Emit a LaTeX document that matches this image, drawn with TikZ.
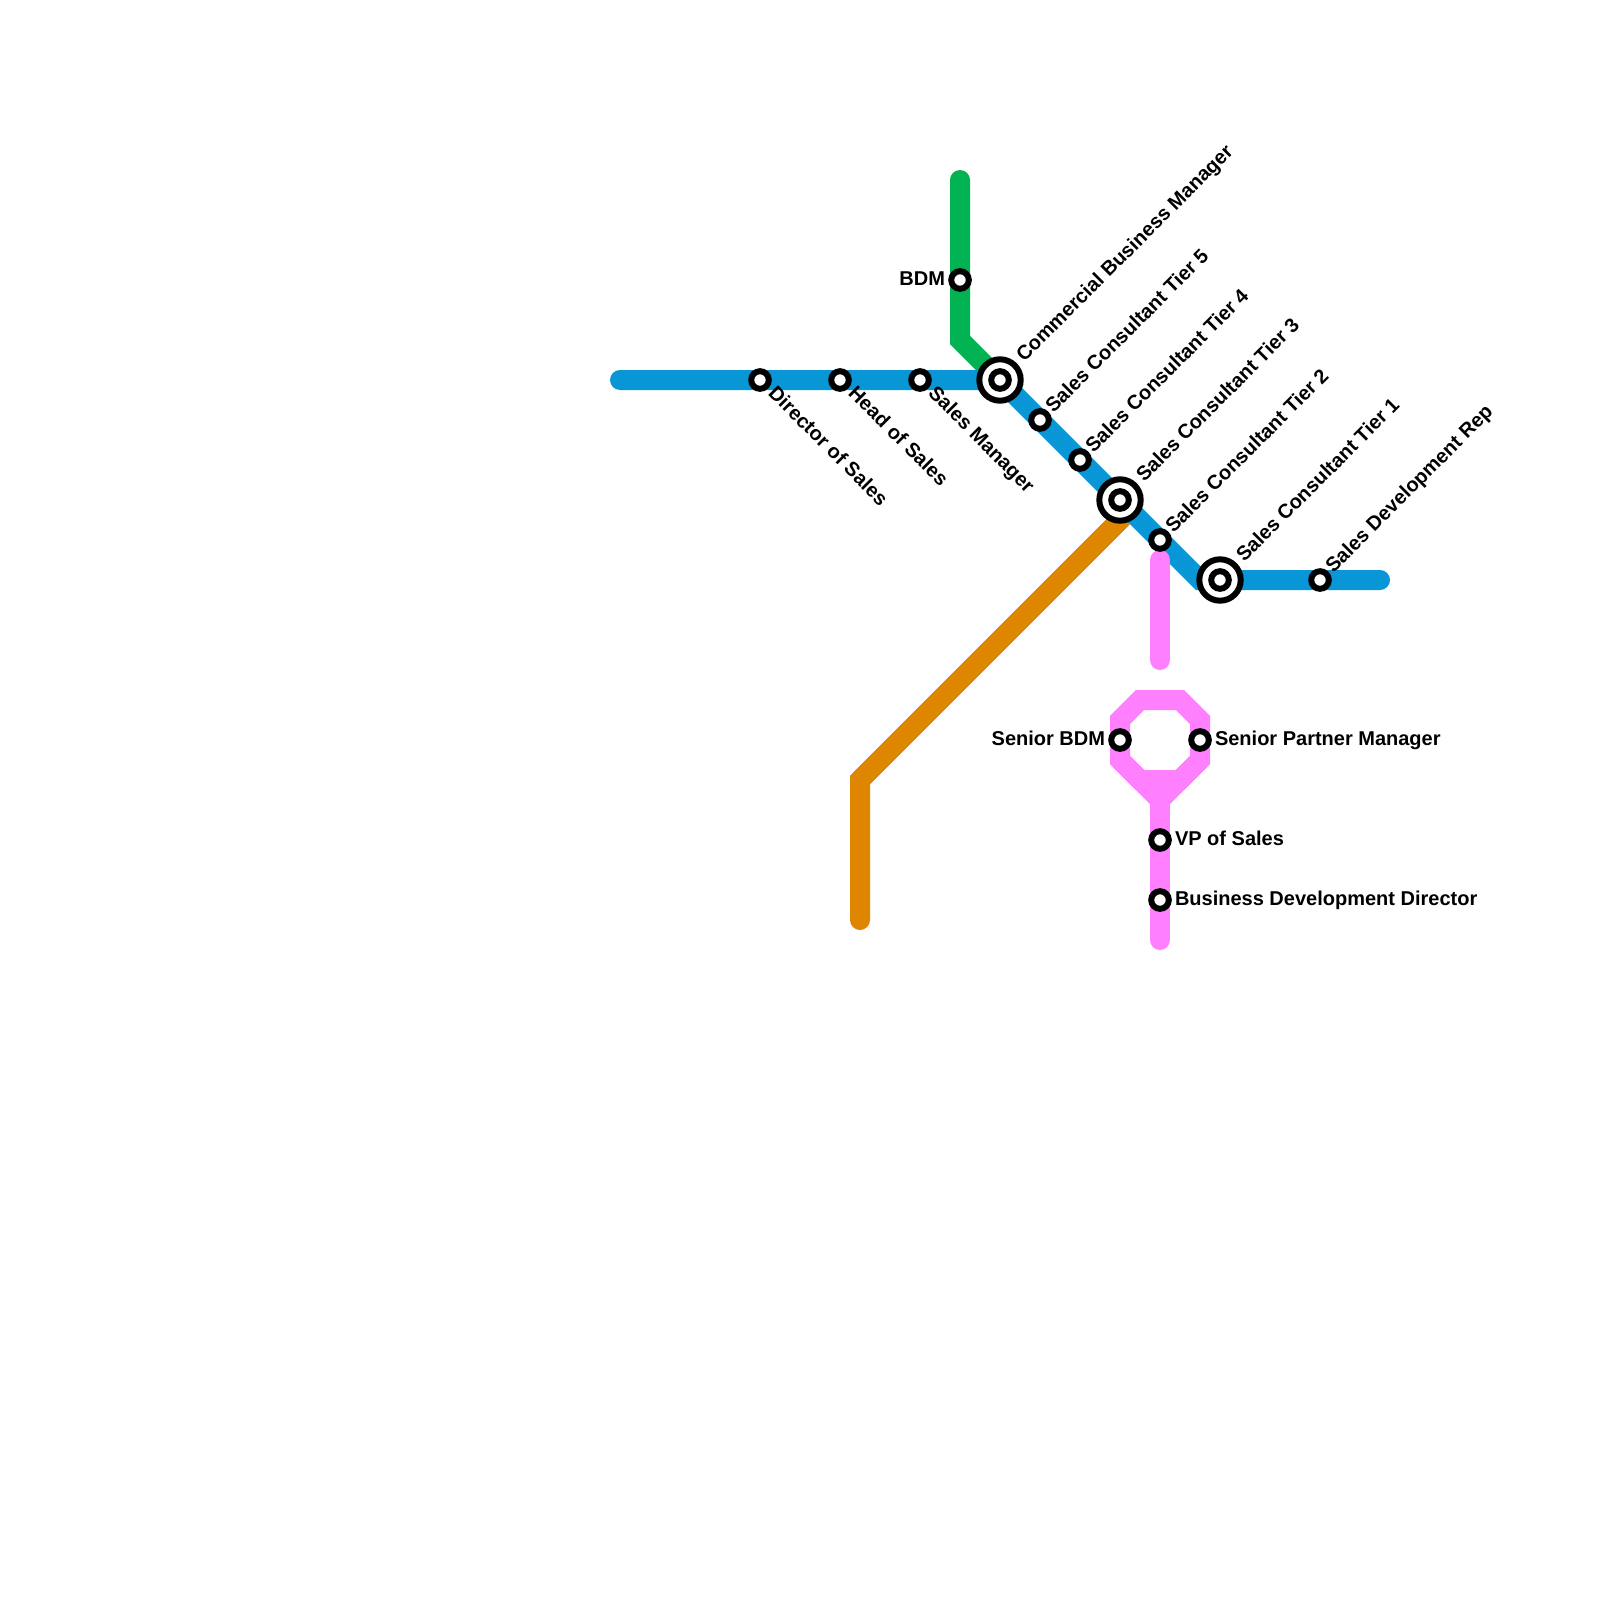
\documentclass[tikz,border=0pt]{standalone}
\usepackage{fontspec}
\setmainfont{Liberation Sans}
\usetikzlibrary{backgrounds,calc}
\definecolor{lblue}{HTML}{0896D7}
\definecolor{lgreen}{HTML}{00B251}
\definecolor{lorange}{HTML}{DF8600}
\definecolor{lpink}{HTML}{FF80FF}
\tikzset{
  x=1pt,y=-1pt,
  metro/.style={line width=20pt,line cap=round,line join=miter,miter limit=10},
  stn/.style={circle,draw=black,fill=white,line width=6pt,minimum size=17.6pt,inner sep=0pt,outer sep=0pt},
  ring/.style={circle,draw=black,fill=white,line width=6pt,minimum size=41.4pt,inner sep=0pt,outer sep=0pt},
  lab/.style={font=\fontsize{20}{22}\selectfont\bfseries,inner sep=0pt,outer sep=0pt,text=black,text height=14.5pt,text depth=4.5pt},
  labup/.style={lab,rotate=45,anchor=west},
  labdn/.style={lab,rotate=-45,anchor=west},
  labr/.style={lab,anchor=west},
  labl/.style={lab,anchor=east},
}
\begin{document}
\begin{tikzpicture}
\useasboundingbox (0,0) rectangle (1600,1600);
% stations
\node[ring] (rcom) at (1000,380) {};
\node[stn] (com) at (1000,380) {};
\node[ring] (rt3) at (1120,500) {};
\node[stn] (t3) at (1120,500) {};
\node[ring] (rt1) at (1220,580) {};
\node[stn] (t1) at (1220,580) {};
\node[stn] (dir) at (760,380) {};
\node[stn] (head) at (840,380) {};
\node[stn] (mgr) at (920,380) {};
\node[stn] (t5) at (1040,420) {};
\node[stn] (t4) at (1080,460) {};
\node[stn] (t2) at (1160,540) {};
\node[stn] (sdr) at (1320,580) {};
\node[stn] (bdm) at (960,280) {};
\node[stn] (sbdm) at (1120,740) {};
\node[stn] (spm) at (1200,740) {};
\node[stn] (vp) at (1160,840) {};
\node[stn] (bdd) at (1160,900) {};
% free line ends and bends
\coordinate (bstart) at (620,380);
\coordinate (bbend) at (1200,580);
\coordinate (bend) at (1380,580);
\coordinate (gstart) at (960,180);
\coordinate (gbend) at (960,340);
\coordinate (ostart) at (1120,520);
\coordinate (obend) at (860,780);
\coordinate (oend) at (860,920);
\coordinate (pa) at (1160,560);
\coordinate (pb) at (1160,660);
\coordinate (oc1) at (1120,720);
\coordinate (oc2) at (1140,700);
\coordinate (oc3) at (1180,700);
\coordinate (oc4) at (1200,720);
\coordinate (oc5) at (1200,760);
\coordinate (oc6) at (1180,780);
\coordinate (oc7) at (1140,780);
\coordinate (oc8) at (1120,760);
\coordinate (pj) at (1160,800);
\coordinate (pe) at (1160,940);
% lines
\begin{scope}[on background layer]
\fill[white] (0,0) rectangle (1600,1600);
\draw[metro,lgreen] (gstart) -- (bdm.center) -- (gbend) -- (com.center);
\draw[metro,lorange,line cap=butt] (t3.center) -- (ostart) -- (obend);
\draw[metro,lorange] (ostart) -- (obend) -- (oend);
\draw[metro,lblue] (bstart) -- (dir.center) -- (head.center) -- (mgr.center) -- (com.center) -- (t5.center) -- (t4.center) -- (t3.center) -- (t2.center) -- (bbend) -- (t1.center) -- (sdr.center) -- (bend);
\draw[metro,lpink] (pa) -- (pb);
\draw[metro,lpink] (oc1) -- (oc2) -- (oc3) -- (oc4) -- (oc5) -- (oc6) -- (oc7) -- (oc8) -- cycle;
\draw[metro,lpink,line cap=butt] (oc8) -- (pj) -- (oc5);
\draw[metro,lpink] (pj) -- (vp.center) -- (bdd.center) -- (pe);
\fill[lpink] (oc7) -- (oc6) -- (pj) -- cycle;
\end{scope}
% labels
\node[labdn] (ldir) at ($(dir)+(11,11)$) {Director of Sales};
\node[labdn] (lhead) at ($(head)+(11,11)$) {Head of Sales};
\node[labdn] (lmgr) at ($(mgr)+(11,11)$) {Sales Manager};
\node[labup] (lcom) at ($(com)+(20.7,-20.7)$) {Commercial Business Manager};
\node[labup] (lt5) at ($(t5)+(10,-10)$) {Sales Consultant Tier 5};
\node[labup] (lt4) at ($(t4)+(10,-10)$) {Sales Consultant Tier 4};
\node[labup] (lt3) at ($(t3)+(20.7,-20.7)$) {Sales Consultant Tier 3};
\node[labup] (lt2) at ($(t2)+(10,-10)$) {Sales Consultant Tier 2};
\node[labup] (lt1) at ($(t1)+(20.7,-20.7)$) {Sales Consultant Tier 1};
\node[labup] (lsdr) at ($(sdr)+(10,-10)$) {Sales Development Rep};
\node[labl] (lbdm) at ($(bdm)+(-15,0.5)$) {BDM};
\node[labl] (lsbdm) at ($(sbdm)+(-15,0.5)$) {Senior BDM};
\node[labr] (lspm) at ($(spm)+(15,0.5)$) {Senior Partner Manager};
\node[labr] (lvp) at ($(vp)+(15,0.5)$) {VP of Sales};
\node[labr] (lbdd) at ($(bdd)+(15,0.5)$) {Business Development Director};
\end{tikzpicture}
\end{document}
